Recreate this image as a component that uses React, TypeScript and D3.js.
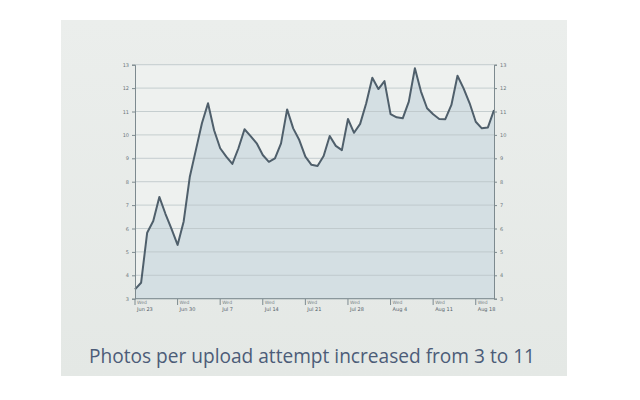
import * as d3 from 'd3'
import { useRef, useEffect } from 'react'

// daily values, starting Wed Jun 23
const startDate = '2010-06-23'
const photosPerAttempt = [
  3.4, 3.68, 5.82, 6.32, 7.35, 6.63, 5.98, 5.3, 6.3, 8.2,
  9.35, 10.5, 11.35, 10.2, 9.43, 9.07, 8.76, 9.43, 10.24, 9.95,
  9.64, 9.14, 8.85, 9.0, 9.64, 11.09, 10.28, 9.78, 9.07, 8.72,
  8.67, 9.1, 9.95, 9.53, 9.35, 10.68, 10.09, 10.47, 11.35, 12.44,
  11.96, 12.3, 10.89, 10.75, 10.71, 11.42, 12.85, 11.85, 11.14, 10.88,
  10.68, 10.67, 11.28, 12.53, 11.99, 11.35, 10.56, 10.28, 10.32, 11.06,
]
const yTicks = [3, 4, 5, 6, 7, 8, 9, 10, 11, 12, 13]
const weekTicks = ['2010-06-23', '2010-06-30', '2010-07-07', '2010-07-14', '2010-07-21', '2010-07-28', '2010-08-04', '2010-08-11', '2010-08-18']
const caption = 'Photos per upload attempt increased from 3 to 11'

export default function App() {
  const svgRef = useRef<SVGSVGElement>(null)
  useEffect(() => {
    const width = 640, height = 400
    const svg = d3.select(svgRef.current)
    svg.selectAll('*').remove()
    svg.attr('width', width).attr('height', height)

    const t0 = new Date(startDate + 'T00:00:00Z')
    const data = photosPerAttempt.map((v, i) => ({ date: d3.utcDay.offset(t0, i), value: v }))

    const x = d3.scaleUtc()
      .domain(d3.extent(data, d => d.date) as [Date, Date])
      .range([135, 494])
    const y = d3.scaleLinear().domain([3, 13]).range([298.7, 64.7])

    // slide background
    const defs = svg.append('defs')
    const grad = defs.append('linearGradient').attr('id', 'slide').attr('x1', 0).attr('y1', 0).attr('x2', 0).attr('y2', 1)
    grad.append('stop').attr('offset', '0%').attr('stop-color', '#ebeeec')
    grad.append('stop').attr('offset', '100%').attr('stop-color', '#e4e8e5')
    svg.append('rect').attr('x', 61).attr('y', 20).attr('width', 506).attr('height', 356).attr('fill', 'url(#slide)')
    svg.append('rect').attr('x', 135).attr('y', 64.7).attr('width', 359).attr('height', 234).attr('fill', '#eef1ef')

    // area under the line
    const area = d3.area<{ date: Date; value: number }>()
      .x(d => x(d.date)).y0(y(3)).y1(d => y(d.value))
    svg.append('path').attr('d', area(data)).attr('fill', '#d4dfe3')

    // gridlines
    svg.append('g').selectAll('line').data(yTicks).join('line')
      .attr('x1', 135).attr('x2', 494)
      .attr('y1', d => y(d)).attr('y2', d => y(d))
      .attr('stroke', '#bcc6c8').attr('stroke-width', 1).attr('opacity', 0.8)

    const line = d3.line<{ date: Date; value: number }>().x(d => x(d.date)).y(d => y(d.value))
    svg.append('path').attr('d', line(data))
      .attr('fill', 'none').attr('stroke', '#4f5f6b').attr('stroke-width', 2).attr('stroke-linejoin', 'round')

    // axes
    const axisColor = '#7d8a8f'
    const leftAxis = d3.axisLeft(y).tickValues(yTicks).tickSize(3).tickPadding(3).tickFormat(d3.format('d'))
    const rightAxis = d3.axisRight(y).tickValues(yTicks).tickSize(3).tickPadding(3).tickFormat(d3.format('d'))
    const gl = svg.append('g').attr('transform', 'translate(135,0)').call(leftAxis)
    const gr = svg.append('g').attr('transform', 'translate(494,0)').call(rightAxis)
    for (const g of [gl, gr]) {
      g.select('.domain').attr('stroke', axisColor)
      g.selectAll('line').attr('stroke', axisColor)
      g.selectAll('text').attr('font-size', 5).attr('fill', '#6c777c').attr('font-family', 'DejaVu Sans')
    }

    const bottom = svg.append('g')
    bottom.append('line').attr('x1', 135).attr('x2', 494).attr('y1', 298.7).attr('y2', 298.7).attr('stroke', axisColor)
    const tick = bottom.selectAll('g.wk').data(weekTicks.map(s => new Date(s + 'T00:00:00Z'))).join('g')
      .attr('transform', d => `translate(${x(d)},0)`)
    tick.append('line').attr('y1', 299).attr('y2', 305).attr('stroke', axisColor)
    tick.append('text').attr('x', 2).attr('y', 304).text('Wed')
      .attr('font-size', 4.5).attr('fill', '#7a8589').attr('font-family', 'DejaVu Sans')
    tick.append('text').attr('x', 2).attr('y', 310.5).text(d => d3.utcFormat('%b %-d')(d))
      .attr('font-size', 5).attr('fill', '#55626a').attr('font-family', 'DejaVu Sans')

    svg.append('text').attr('x', 89).attr('y', 363).text(caption)
      .attr('font-family', 'Open Sans').attr('font-size', 20.5).attr('fill', '#4c5c78')
      .attr('textLength', 446).attr('lengthAdjust', 'spacingAndGlyphs')
  }, [])
  return <svg ref={svgRef} style={{ position: 'absolute', left: 0, top: 0 }}></svg>
}
